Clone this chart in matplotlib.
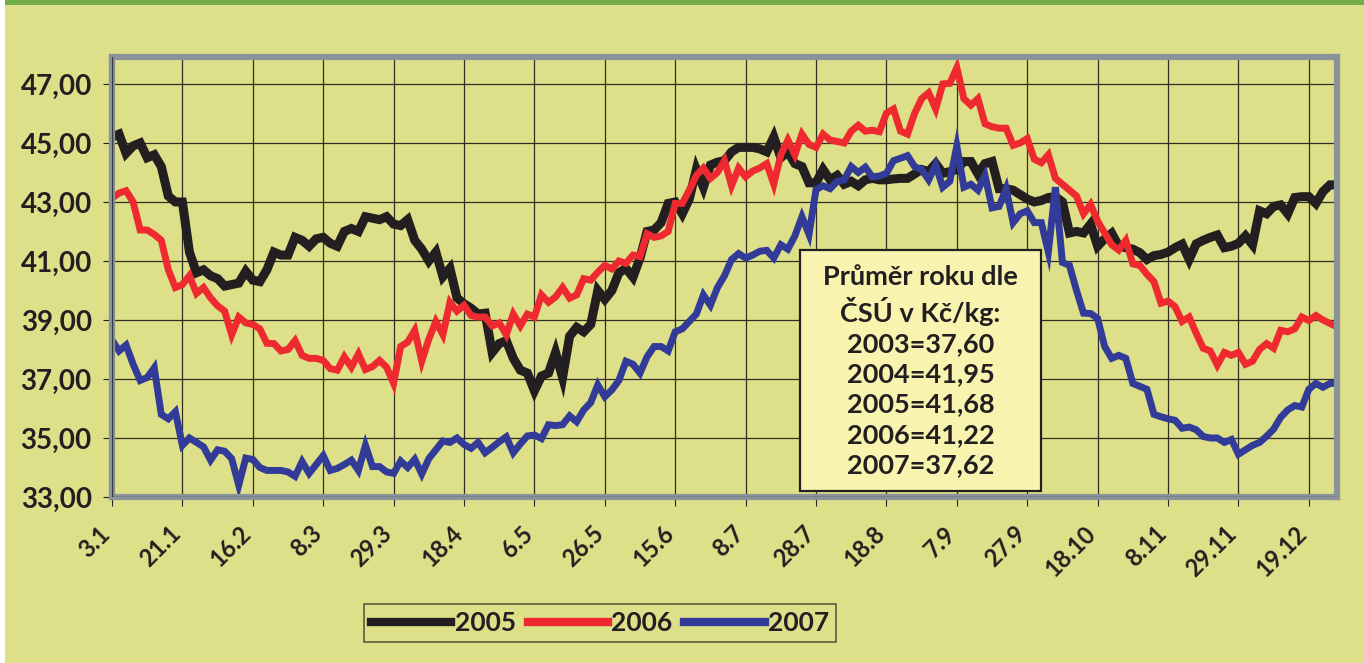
import matplotlib
matplotlib.use("Agg")
import matplotlib.pyplot as plt
from matplotlib.patches import Rectangle
from matplotlib.lines import Line2D

# -------------------------
# DATA (~10 points per tick step)
# -------------------------

dates = ["3.1", "21.1", "16.2", "8.3", "29.3", "18.4", "6.5", "26.5", "15.6",
         "8.7", "28.7", "18.8", "7.9", "27.9", "18.10", "8.11", "29.11", "19.12"]

y2005 = [45.2, 45.3, 44.65, 44.9, 45.0, 44.5, 44.6, 44.2, 43.2, 43.0, 43.0,
         41.3, 40.6, 40.7, 40.5, 40.4, 40.15, 40.2, 40.25, 40.65, 40.35,
         40.3, 40.7, 41.3, 41.2, 41.2, 41.8, 41.7, 41.5, 41.75, 41.8,
         41.6, 41.5, 42.0, 42.1, 42.0, 42.5, 42.45, 42.4, 42.5, 42.25,
         42.2, 42.4, 41.7, 41.4, 41.0, 41.3, 40.47, 40.75, 39.75, 39.55,
         39.4, 39.2, 39.23, 37.9, 38.2, 38.3, 37.7, 37.3, 37.2, 36.6,
         37.1, 37.2, 37.9, 37.05, 38.45, 38.75, 38.6, 38.85, 40.0, 39.7,
         40.0, 40.6, 40.75, 40.45, 41.1, 42.0, 42.05, 42.3, 42.95, 43.0,
         42.6, 43.1, 44.1, 43.5, 44.25, 44.35, 44.4, 44.7, 44.85, 44.85,
         44.85, 44.8, 44.7, 45.2, 44.5, 44.7, 44.3, 44.2, 43.65, 43.65,
         44.1, 43.75, 43.9, 43.6, 43.7, 43.55, 43.75, 43.8, 43.75, 43.75,
         43.78, 43.8, 43.8, 43.95, 44.1, 44.03, 44.3, 43.97, 44.03, 44.1,
         44.37, 44.37, 43.95, 44.3, 44.37, 43.45, 43.45, 43.4, 43.25, 43.1,
         43.0, 43.05, 43.15, 43.18, 43.0, 41.95, 42.0, 41.95, 42.25, 41.5,
         41.75, 41.94, 41.5, 41.45, 41.4, 41.28, 41.05, 41.18, 41.22, 41.3,
         41.45, 41.57, 41.05, 41.58, 41.7, 41.8, 41.88, 41.45, 41.5, 41.6,
         41.85, 41.55, 42.7, 42.6, 42.85, 42.9, 42.6, 43.15, 43.18, 43.18,
         42.95, 43.35, 43.58, 43.58]

y2006 = [43.13, 43.3, 43.38, 43.0, 42.05, 42.05, 41.9, 41.7, 40.7, 40.1, 40.2,
         40.5, 39.9, 40.1, 39.75, 39.48, 39.3, 38.5, 39.1, 38.9, 38.85,
         38.7, 38.21, 38.2, 37.95, 38.0, 38.3, 37.8, 37.7, 37.7, 37.63,
         37.35, 37.3, 37.75, 37.4, 37.85, 37.32, 37.42, 37.63, 37.4, 36.85,
         38.1, 38.25, 38.65, 37.6, 38.35, 38.95, 38.5, 39.6, 39.3, 39.5,
         39.15, 39.1, 39.1, 38.8, 38.9, 38.5, 39.2, 38.8, 39.2, 39.1,
         39.85, 39.6, 39.78, 40.1, 39.74, 39.85, 40.4, 40.35, 40.62, 40.85,
         40.73, 41.0, 40.92, 41.2, 41.15, 41.92, 41.8, 41.85, 42.0, 42.95,
         42.95, 43.4, 43.9, 44.15, 43.8, 44.0, 44.4, 43.55, 44.15, 43.85,
         44.05, 44.15, 44.3, 43.6, 44.6, 45.1, 44.6, 45.3, 44.95, 44.85,
         45.3, 45.1, 45.05, 45.0, 45.4, 45.6, 45.4, 45.43, 45.38, 46.01,
         46.15, 45.4, 45.3, 46.0, 46.5, 46.7, 46.15, 47.0, 47.02, 47.55,
         46.5, 46.28, 46.5, 45.65, 45.55, 45.5, 45.5, 44.92, 45.0, 45.15,
         44.45, 44.33, 44.6, 43.8, 43.6, 43.4, 43.2, 42.6, 42.92, 42.35,
         41.95, 41.55, 41.37, 41.7, 40.9, 40.85, 40.55, 40.3, 39.57, 39.64,
         39.45, 38.95, 39.1, 38.55, 38.04, 37.95, 37.47, 37.9, 37.8, 37.9,
         37.5, 37.6, 38.0, 38.2, 38.04, 38.65, 38.6, 38.7, 39.1, 38.98,
         39.15, 39.0, 38.88, 38.77]

y2007 = [38.32, 37.95, 38.15, 37.5, 36.95, 37.05, 37.38, 35.8, 35.65, 35.89, 34.75,
         35.0, 34.85, 34.7, 34.25, 34.6, 34.55, 34.3, 33.4, 34.32, 34.27,
         34.0, 33.9, 33.9, 33.9, 33.85, 33.7, 34.2, 33.8, 34.1, 34.4,
         33.9, 33.97, 34.1, 34.25, 33.9, 34.75, 34.03, 34.03, 33.85, 33.8,
         34.22, 34.0, 34.28, 33.78, 34.3, 34.6, 34.9, 34.85, 35.0, 34.78,
         34.65, 34.85, 34.5, 34.68, 34.87, 35.04, 34.5, 34.8, 35.07, 35.1,
         34.98, 35.45, 35.42, 35.45, 35.75, 35.55, 35.95, 36.2, 36.8, 36.4,
         36.63, 36.95, 37.6, 37.5, 37.2, 37.75, 38.1, 38.1, 37.95, 38.6,
         38.7, 38.95, 39.2, 39.85, 39.5, 40.1, 40.5, 41.05, 41.25, 41.1,
         41.2, 41.33, 41.36, 41.1, 41.55, 41.4, 41.85, 42.5, 41.9, 43.42,
         43.55, 43.45, 43.7, 43.75, 44.2, 44.0, 44.18, 43.85, 43.88, 43.97,
         44.4, 44.48, 44.57, 44.2, 44.1, 43.75, 44.25, 43.5, 43.7, 44.9,
         43.5, 43.6, 43.4, 43.9, 42.8, 42.85, 43.45, 42.3, 42.6, 42.7,
         42.3, 42.3, 41.3, 43.5, 40.95, 40.85, 40.0, 39.23, 39.22, 39.05,
         38.1, 37.7, 37.8, 37.7, 36.85, 36.75, 36.65, 35.8, 35.72, 35.65,
         35.6, 35.33, 35.37, 35.28, 35.05, 35.0, 35.0, 34.85, 34.95, 34.45,
         34.6, 34.75, 34.85, 35.06, 35.3, 35.7, 35.95, 36.1, 36.05, 36.65,
         36.85, 36.72, 36.85, 36.85]

averages = ["2003=37,60", "2004=41,95", "2005=41,68", "2006=41,22", "2007=37,62"]
years = ["2005", "2006", "2007"]

# -------------------------
# STYLE
# -------------------------

BG = "#dde088"
INK = "#231f20"
FRAME = "#8a9399"
COLORS = {"2005": "#231f20", "2006": "#ee2a30", "2007": "#323c98"}
WIDTHS = {"2005": 6.5, "2006": 5.0, "2007": 5.0}

plt.rcParams["font.family"] = ["Lato", "DejaVu Sans"]
plt.rcParams["font.weight"] = "bold"

W, H = 1364, 663


def fx(px):
    return px / W


def fy(py):
    return 1 - py / H


fig = plt.figure(figsize=(W / 100, H / 100), dpi=100, facecolor=BG)

# page decoration: green strip on top, white edge on the left
fig.add_artist(Rectangle((fx(5), fy(5)), 1 - fx(5), 5 / H, transform=fig.transFigure,
                         facecolor="#72ad4a", edgecolor="none"))
fig.add_artist(Rectangle((0, 0), 5 / W, 1, transform=fig.transFigure,
                         facecolor="white", edgecolor="none"))

ax = fig.add_axes([fx(112), fy(497), fx(1337) - fx(112), fy(57.4) - fy(497)])
ax.set_facecolor(BG)

x = list(range(len(y2005)))
for name, ys in zip(years, [y2005, y2006, y2007]):
    ax.plot(x, ys, color=COLORS[name], lw=WIDTHS[name],
            solid_joinstyle="miter", solid_capstyle="butt", zorder=2)

ax.set_xlim(0, len(x) - 1)
ax.set_ylim(33, 47.9)

ax.set_yticks(range(33, 48, 2))
ax.set_yticklabels([f"{v:.2f}".replace(".", ",") for v in range(33, 48, 2)])
ax.set_xticks(range(0, 10 * len(dates), 10))
ax.set_xticklabels(dates)

ax.set_axisbelow(True)
ax.grid(True, color="#2e2e22", lw=0.9)

ax.tick_params(axis="y", direction="out", length=6.5, width=0.8, color=INK,
               labelsize=20, labelcolor=INK, pad=8)
ax.tick_params(axis="x", direction="out", length=6.5, width=0.8, color=INK,
               labelsize=17, labelcolor=INK, pad=21)
for lab in ax.get_xticklabels():
    lab.set_rotation(45)
    lab.set_ha("right")
    lab.set_va("baseline")
    lab.set_rotation_mode("anchor")
    lab.set_fontweight("bold")
for lab in ax.get_yticklabels():
    lab.set_fontweight("bold")

for s in ax.spines.values():
    s.set_color(FRAME)
    s.set_linewidth(4.5)
    s.set_zorder(2.5)
ax.axvline(0, color="#3a3d3f", lw=1.0, zorder=3)
ax.axhline(33, color="#3a3d3f", lw=1.0, zorder=3)

# -------------------------
# AVERAGES BOX
# -------------------------

fig.add_artist(Rectangle((fx(800), fy(491)), fx(1041) - fx(800), fy(250) - fy(491),
                         transform=fig.transFigure, facecolor="#f8f4af",
                         edgecolor=INK, lw=1.6, zorder=5))
box_text = "Průměr roku dle\nČSÚ v Kč/kg:\n" + "\n".join(averages)
fig.text(fx(920.5), fy(371), box_text, ha="center", va="center", ma="center",
         fontsize=19.5, fontweight="bold", color=INK, linespacing=1.31, zorder=6)

# -------------------------
# LEGEND
# -------------------------

handles = [Line2D([], [], color=COLORS[n], lw=6) for n in years]
leg = fig.legend(handles, years, loc="center", bbox_to_anchor=(fx(600), fy(623)),
                 ncol=3, frameon=True, fancybox=False, borderpad=0.25,
                 handlelength=3.05, handletextpad=0.12, columnspacing=0.45,
                 prop={"size": 19, "weight": "bold"})
leg.get_frame().set_facecolor(BG)
leg.get_frame().set_edgecolor("#3a3a30")
leg.get_frame().set_linewidth(1.2)
for t in leg.get_texts():
    t.set_color(INK)

fig.savefig("out.png", dpi=100, facecolor=BG)
